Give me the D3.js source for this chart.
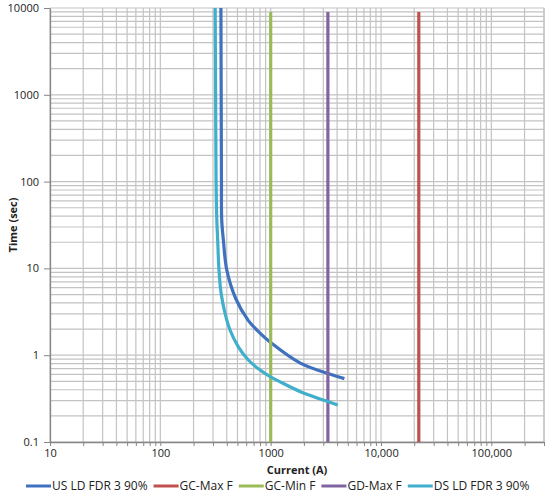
<!DOCTYPE html>
<html>
<head>
<meta charset="utf-8">
<script src="https://cdn.jsdelivr.net/npm/d3@7"></script>
<style>
  body { margin: 0; background: #fff; }
  svg { display: block; font-family: "Open Sans", sans-serif; }
</style>
</head>
<body>
<svg id="chart" width="550" height="494"></svg>
<script>
// tick labels
const xTicks = [10, 100, 1000, 10000, 100000];
const yTicks = [0.1, 1, 10, 100, 1000, 10000];

// series (current in A, time in sec)
const seriesNames = ['US LD FDR 3 90%', 'GC-Max F', 'GC-Min F', 'GD-Max F', 'DS LD FDR 3 90%'];
const seriesColors = ['#3f71bf', '#c0504d', '#9bbb59', '#8064a2', '#40afcc'];

const usCurrent = [354, 356, 358, 360, 373, 400, 482, 628, 800, 1000, 1859, 3357, 4660];
const usTime    = [10000, 1000, 100, 36, 21, 9.6, 4.5, 2.5, 1.8, 1.4, 0.81, 0.61, 0.537];

const gcMaxCurrent = [22000, 22000];
const gcMaxTime    = [0.1, 9000];

const gcMinCurrent = [1000, 1000];
const gcMinTime    = [0.1, 9000];

const gdMaxCurrent = [3300, 3300];
const gdMaxTime    = [0.1, 9000];

const dsCurrent = [314, 317, 320, 325, 331, 340, 355, 386, 428, 509, 628, 802, 989, 1262, 1858, 3357, 4047];
const dsTime    = [10000, 1000, 100, 36, 21, 9.6, 5.2, 3.04, 1.95, 1.25, 0.88, 0.674, 0.565, 0.482, 0.38, 0.29, 0.267];

const seriesData = [
    [usCurrent, usTime],
    [gcMaxCurrent, gcMaxTime],
    [gcMinCurrent, gcMinTime],
    [gdMaxCurrent, gdMaxTime],
    [dsCurrent, dsTime]
].map(([xs, ts]) => xs.map((v, i) => [v, ts[i]]));

let svg = d3.select('svg#chart');

// plot box (note: "top" would clash with window.top)
const plot = { left: 50, right: 544, top: 8, bottom: 442 };

let x = d3.scaleLog()
    .domain([10, 300000])
    .range([plot.left, plot.right]);

let y = d3.scaleLog()
    .domain([0.1, 10000])
    .range([plot.bottom, plot.top]);

// grid, minor and major
let grid = svg.append('g').attr('class', 'grid')
    .attr('stroke', '#c3c3c3')
    .attr('stroke-width', 1.2);

grid.selectAll('line.v')
    .data(x.ticks().concat([300000]))
    .enter().append('line')
    .attr('class', 'v')
    .attr('x1', d => x(d)).attr('x2', d => x(d))
    .attr('y1', plot.top).attr('y2', plot.bottom);

grid.selectAll('line.h')
    .data(y.ticks())
    .enter().append('line')
    .attr('class', 'h')
    .attr('x1', plot.left).attr('x2', plot.right)
    .attr('y1', d => y(d)).attr('y2', d => y(d));

// axes
let xAxis = d3.axisBottom(x)
    .tickValues(x.ticks())
    .tickSize(4)
    .tickSizeOuter(0)
    .tickFormat(d => xTicks.includes(d) ? (d >= 10000 ? d3.format(',')(d) : d) : '');

let yAxis = d3.axisLeft(y)
    .tickValues(yTicks)
    .tickSize(6)
    .tickSizeOuter(0)
    .tickFormat(d => String(d));

let gx = svg.append('g')
    .attr('transform', 'translate(0,' + plot.bottom + ')')
    .call(xAxis);

let gy = svg.append('g')
    .attr('transform', 'translate(' + plot.left + ',0)')
    .call(yAxis);

[gx, gy].forEach(function(ax) {
    ax.select('.domain').attr('stroke', '#868686').attr('stroke-width', 1.3);
    ax.selectAll('.tick line').attr('stroke', '#868686');
    ax.selectAll('.tick text')
        .attr('fill', '#222')
        .style('font-size', '11px')
        .style('font-family', '"Open Sans", sans-serif');
});
gx.selectAll('.tick text').attr('dy', '0.95em').attr('y', 5);
gy.selectAll('.tick text').attr('x', -11);

// axis titles
svg.append('text')
    .attr('x', (plot.left + plot.right) / 2)
    .attr('y', 474)
    .attr('text-anchor', 'middle')
    .style('font-size', '11px')
    .style('font-weight', 'bold')
    .attr('fill', '#222')
    .text('Current (A)');

svg.append('text')
    .attr('transform', 'translate(17,225) rotate(-90)')
    .attr('text-anchor', 'middle')
    .style('font-size', '11px')
    .style('font-weight', 'bold')
    .attr('fill', '#222')
    .text('Time (sec)');

// series
let line = d3.line()
    .x(d => x(d[0]))
    .y(d => y(d[1]))
    .curve(d3.curveCatmullRom.alpha(0.5));

svg.append('g').attr('class', 'series')
    .selectAll('path')
    .data(seriesData)
    .enter().append('path')
    .attr('d', line)
    .attr('fill', 'none')
    .attr('stroke', (d, i) => seriesColors[i])
    .attr('stroke-width', 3.2);

// legend
let legend = svg.append('g').attr('class', 'legend');
var lx = 26,
    ly = 486;
seriesNames.forEach(function(name, i) {
    legend.append('line')
        .attr('x1', lx).attr('x2', lx + 25)
        .attr('y1', ly).attr('y2', ly)
        .attr('stroke', seriesColors[i])
        .attr('stroke-width', 3);
    let t = legend.append('text')
        .attr('x', lx + 26)
        .attr('y', ly)
        .attr('dy', '0.35em')
        .style('font-size', '12px')
        .attr('fill', '#222')
        .text(name);
    lx += 26 + t.node().getComputedTextLength() + 6;
});
</script>
</body>
</html>
